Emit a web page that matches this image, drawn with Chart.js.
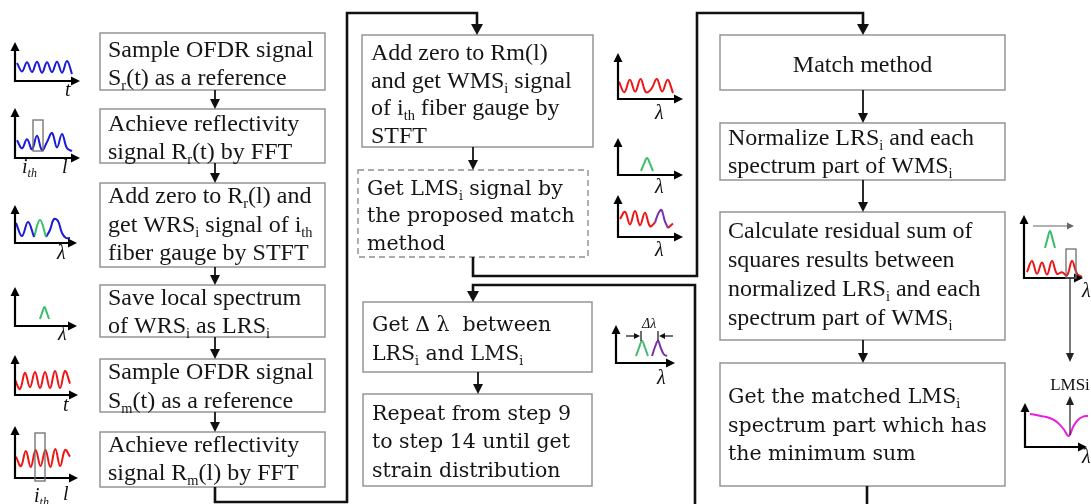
<!DOCTYPE html>
<html>
<head>
<meta charset="utf-8">
<script src="https://cdn.jsdelivr.net/npm/chart.js@4.4.1/dist/chart.umd.min.js"></script>
<style>
  html, body { margin: 0; padding: 0; background: #fff; overflow: hidden; }
  canvas { display: block; }
</style>
</head>
<body>
<canvas id="flow" width="1091" height="504"></canvas>
<script>
// ---- Step texts (subscripts written as _{...}) ----
const leftSteps = [
  ["Sample OFDR signal", "S_{r}(t) as a reference"],
  ["Achieve reflectivity", "signal R_{r}(t) by FFT"],
  ["Add zero to R_{r}(l) and", "get WRS_{i} signal of i_{th}", "fiber gauge by STFT"],
  ["Save local spectrum", "of WRS_{i} as LRS_{i}"],
  ["Sample OFDR signal", "S_{m}(t) as a reference"],
  ["Achieve reflectivity", "signal R_{m}(l) by FFT"]
];
const midSteps = [
  ["Add zero to Rm(l)", "and get WMS_{i} signal", "of i_{th} fiber gauge by", "STFT"],
  ["Get LMS_{i} signal by", "the proposed match", "method"],
  ["Get \u0394 \u03bb  between", "LRS_{i} and LMS_{i}"],
  ["Repeat from step 9", "to step 14 until get", "strain distribution"]
];
const rightSteps = [
  ["Match method"],
  ["Normalize LRS_{i} and each", "spectrum part of WMS_{i}"],
  ["Calculate residual sum of", "squares results between", "normalized LRS_{i} and each", "spectrum part of WMS_{i}"],
  ["Get the matched LMS_{i}", "spectrum part which has", "the minimum sum"]
];

// ---- Sketch signal samples (relative amplitude, 0 = low, 1 = high) ----
const sigRefTime   = [0.85, 0.2, 0.9, 0.15, 0.95, 0.1, 0.9, 0.15, 0.95, 0.1, 1.0, 0.0];
const sigRefRefl   = [0.6, 0.15, 0.65, 0.1, 0.85, 0.05, 0.5, 1.0, 0.2, 0.95, 0.15, 0.0];
const sigWrsA      = [0.75, 0.1, 0.8, 0.05];
const sigWrsPeak   = [0.05, 0.9, 0.05];
const sigWrsB      = [0.05, 0.4, 0.95, 0.85, 0.25, 0.0, 0.0];
const sigPeak      = [0.0, 0.55, 1.0, 0.55, 0.0];
const sigMeasTime  = [0.5, 0.0, 0.9, 0.1, 0.95, 0.05, 0.95, 0.05, 1.0, 0.05, 1.0, 0.3];
const sigMeasRefl  = [0.6, 0.1, 0.9, 0.05, 0.95, 0.1, 0.95, 0.05, 1.0, 0.1, 0.95, 0.6];
const sigWms       = [0.8, 0.05, 0.95, 0.1, 1.0, 0.05, 0.3, 1.0, 0.1, 0.95, 0.0];
const sigLmsRed    = [0.5, 0.9, 0.2, 0.95, 0.15, 0.85, 0.1, 0.3];
const sigLmsPurple = [0.3, 0.8, 1.0, 0.4, 0.0];
const sigLmsTail   = [0.0, 0.25];
const sigShifted   = [0.0, 0.6, 1.0, 0.5, 0.1, 0.0];
const sigScan      = [0.3, 1.0, 0.2, 0.9, 0.15, 1.0, 0.2, 0.3, 0.1, 1.0, 0.2, 0.0];
const sigResidual  = [1.0, 0.97, 0.92, 0.88, 0.82, 0.72, 0.55, 0.3, 0.0, 0.45, 0.75, 0.88, 0.92];

// ---- Colours ----
const BLUE = '#1a1ad8', GREEN = '#3dbd6c', RED = '#ee1515', PURPLE = '#7a2ea8', MAGENTA = '#e81ee3';

// ---- Where each sketch curve sits: [x1, x2, yHigh, yLow] ----
const curves = [
  { v: sigRefTime,   c: BLUE,    f: [17, 72, 61, 74] },
  { v: sigRefRefl,   c: BLUE,    f: [17, 72, 133, 151] },
  { v: sigWrsA,      c: BLUE,    f: [16, 34, 218, 238] },
  { v: sigWrsPeak,   c: GREEN,   f: [34, 46, 218, 238] },
  { v: sigWrsB,      c: BLUE,    f: [46, 70, 218, 238] },
  { v: sigPeak,      c: GREEN,   f: [40, 49, 307, 319] },
  { v: sigMeasTime,  c: RED,     f: [15, 70, 371, 389] },
  { v: sigMeasRefl,  c: RED,     f: [16, 70, 449, 468] },
  { v: sigWms,       c: RED,     f: [619, 673, 79, 93] },
  { v: sigPeak,      c: GREEN,   f: [641, 653, 158, 171] },
  { v: sigLmsRed,    c: RED,     f: [620, 655, 210, 228] },
  { v: sigLmsPurple, c: PURPLE,  f: [655, 668, 210, 228] },
  { v: sigLmsTail,   c: RED,     f: [668, 673, 210, 228] },
  { v: sigPeak,      c: GREEN,   f: [636, 648, 341, 356] },
  { v: sigShifted,   c: PURPLE,  f: [652, 667, 341, 356] },
  { v: sigPeak,      c: GREEN,   f: [1045, 1055, 231, 248] },
  { v: sigScan,      c: RED,     f: [1027, 1082, 261, 277] },
  { v: sigResidual,  c: MAGENTA, f: [1030, 1088, 414, 436] }
];

// ---- Box layout ----
const TIMES = '"Liberation Serif", "Times New Roman", serif';
const CAMB = '"DejaVu Serif", serif';
const leftBoxes = [
  { x: 100, y: 33,  w: 225, h: 57, b: [57, 85] },
  { x: 100, y: 109, w: 225, h: 54, b: [131, 159] },
  { x: 100, y: 183, w: 225, h: 84, b: [203, 232, 260] },
  { x: 100, y: 285, w: 225, h: 52, b: [305, 333] },
  { x: 100, y: 359, w: 225, h: 53, b: [379, 408] },
  { x: 100, y: 432, w: 225, h: 55, b: [452, 480] }
].map(o => Object.assign(o, { tx: 108, font: TIMES, size: 24 }));
const midBoxes = [
  { x: 362, y: 35,  w: 231, h: 112, b: [60, 88, 115, 143], tx: 371, font: TIMES, size: 24 },
  { x: 358, y: 170, w: 230, h: 87,  b: [195, 222, 250], tx: 367, font: CAMB, size: 20.5, dashed: true },
  { x: 363, y: 302, w: 229, h: 70,  b: [331, 360], tx: 372, font: CAMB, size: 20.5 },
  { x: 363, y: 394, w: 229, h: 92,  b: [420, 448, 477], tx: 372, font: CAMB, size: 20.5 }
];
const rightBoxes = [
  { x: 720, y: 35,  w: 285, h: 55,  b: [72], tx: 862.5, font: TIMES, size: 24, center: true },
  { x: 720, y: 123, w: 285, h: 57,  b: [145, 173], tx: 728, font: TIMES, size: 24 },
  { x: 720, y: 212, w: 285, h: 128, b: [238, 267, 296, 325], tx: 728, font: TIMES, size: 24 },
  { x: 720, y: 363, w: 285, h: 123, b: [403, 432, 460], tx: 728, font: CAMB, size: 20.5 }
];

// thin step arrows [x, yFrom, yTo]
const stepArrows = [
  [215, 90, 109], [215, 163, 183], [215, 267, 285], [215, 337, 359], [215, 412, 432],
  [473, 147, 170], [478, 372, 394],
  [863, 90, 123], [863, 180, 212], [863, 340, 363]
];
// thick connector paths; last point gets an arrow head when head = true
const connectors = [
  { p: [[215, 487], [215, 502], [347, 502], [347, 13], [477, 13], [477, 35]], head: true },
  { p: [[473, 257], [473, 276], [697, 276], [697, 13], [863, 13], [863, 35]], head: true },
  { p: [[867, 486], [867, 512]], head: false },
  { p: [[695, 512], [695, 285], [473, 285], [473, 302]], head: true }
];
// small plot axes [originX, originY, topY, rightX]
const miniAxes = [
  [15, 81, 42, 80], [15, 158, 108, 80], [15, 243, 205, 77], [15, 326, 287, 77],
  [15, 395, 355, 78], [15, 478, 426, 78],
  [618, 99, 53, 683], [618, 175, 138, 683], [618, 237, 195, 683], [616, 363, 325, 675],
  [1024, 278, 215, 1083], [1025, 447, 403, 1087]
];
// gauge windows [x, y, w, h]
const windows = [[33, 120, 10, 31], [35, 433, 10, 48], [1066, 249, 10, 29]];
// axis names [text, x, baseline]
const axisNames = [
  ["t", 65, 96], ["i_{th}", 22, 173], ["l", 62, 173], ["\u03bb", 57, 259], ["\u03bb", 58, 340],
  ["t", 63, 411], ["i_{th}", 34, 502], ["l", 63, 500],
  ["\u03bb", 655, 119], ["\u03bb", 655, 193], ["\u03bb", 655, 256], ["\u03bb", 657, 384],
  ["\u03bb", 1082, 297], ["\u03bb", 1082, 463]
];

// ---- text helpers ----
function splitRich(str) {
  const parts = [], re = /_\{([^}]*)\}/g;
  let last = 0, m;
  while ((m = re.exec(str))) {
    if (m.index > last) parts.push({ t: str.slice(last, m.index), sub: false });
    parts.push({ t: m[1], sub: true });
    last = re.lastIndex;
  }
  if (last < str.length) parts.push({ t: str.slice(last), sub: false });
  return parts;
}
function drawRich(ctx, str, x, y, size, family, opt) {
  opt = opt || {};
  const st = opt.italic ? 'italic ' : '';
  const fMain = st + size + 'px ' + family;
  const fSub = st + (size * 0.6).toFixed(1) + 'px ' + family;
  const parts = splitRich(str);
  let total = 0;
  parts.forEach(p => { ctx.font = p.sub ? fSub : fMain; p.w = ctx.measureText(p.t).width; total += p.w; });
  let cx = opt.center ? x - total / 2 : x;
  ctx.textAlign = 'left';
  ctx.textBaseline = 'alphabetic';
  parts.forEach(p => {
    ctx.font = p.sub ? fSub : fMain;
    ctx.fillText(p.t, cx, y + (p.sub ? size * 0.22 : 0));
    cx += p.w;
  });
}

const flowPlugin = {
  id: 'flowPlugin',
  beforeDatasetsDraw(chart) {
    const ctx = chart.ctx, sx = chart.scales.x, sy = chart.scales.y;
    const X = v => sx.getPixelForValue(v), Y = v => sy.getPixelForValue(v);
    ctx.save();
    const drawBoxes = (boxes, texts) => {
      boxes.forEach((bx, i) => {
        ctx.strokeStyle = '#8e8e8e';
        ctx.lineWidth = 1.4;
        ctx.setLineDash(bx.dashed ? [6, 4] : []);
        ctx.strokeRect(X(bx.x), Y(bx.y), X(bx.x + bx.w) - X(bx.x), Y(bx.y + bx.h) - Y(bx.y));
        ctx.setLineDash([]);
        ctx.fillStyle = '#151515';
        texts[i].forEach((line, k) => {
          drawRich(ctx, line, X(bx.tx), Y(bx.b[k]), bx.size, bx.font, { center: bx.center });
        });
      });
    };
    drawBoxes(leftBoxes, leftSteps);
    drawBoxes(midBoxes, midSteps);
    drawBoxes(rightBoxes, rightSteps);
    ctx.restore();
  },
  afterDatasetsDraw(chart) {
    const ctx = chart.ctx, sx = chart.scales.x, sy = chart.scales.y;
    const X = v => sx.getPixelForValue(v), Y = v => sy.getPixelForValue(v);
    ctx.save();
    const head = (x1, y1, x2, y2, len, half, color) => {
      const a = Math.atan2(y2 - y1, x2 - x1);
      ctx.fillStyle = color;
      ctx.beginPath();
      ctx.moveTo(x2, y2);
      ctx.lineTo(x2 - len * Math.cos(a) + half * Math.sin(a), y2 - len * Math.sin(a) - half * Math.cos(a));
      ctx.lineTo(x2 - len * Math.cos(a) - half * Math.sin(a), y2 - len * Math.sin(a) + half * Math.cos(a));
      ctx.closePath();
      ctx.fill();
    };
    const arrow = (x1, y1, x2, y2, lw, len, half, color) => {
      const a = Math.atan2(y2 - y1, x2 - x1);
      ctx.strokeStyle = color;
      ctx.lineWidth = lw;
      ctx.beginPath();
      ctx.moveTo(x1, y1);
      ctx.lineTo(x2 - (len - 1) * Math.cos(a), y2 - (len - 1) * Math.sin(a));
      ctx.stroke();
      head(x1, y1, x2, y2, len, half, color);
    };

    // step arrows
    stepArrows.forEach(([x, a, b]) => arrow(X(x), Y(a), X(x), Y(b), 1.8, 10, 5, '#111'));

    // connector paths
    connectors.forEach(cn => {
      const pts = cn.p.map(([x, y]) => [X(x), Y(y)]);
      ctx.strokeStyle = '#111';
      ctx.lineWidth = 2.6;
      ctx.lineJoin = 'miter';
      ctx.beginPath();
      pts.forEach((p, i) => {
        if (i === pts.length - 1 && cn.head) {
          const q = pts[i - 1];
          const a = Math.atan2(p[1] - q[1], p[0] - q[0]);
          ctx.lineTo(p[0] - 9 * Math.cos(a), p[1] - 9 * Math.sin(a));
        } else if (i === 0) ctx.moveTo(p[0], p[1]);
        else ctx.lineTo(p[0], p[1]);
      });
      ctx.stroke();
      if (cn.head) {
        const p = pts[pts.length - 1], q = pts[pts.length - 2];
        head(q[0], q[1], p[0], p[1], 11, 6, '#111');
      }
    });

    // mini plot axes
    miniAxes.forEach(([ox, oy, ty, rx]) => {
      arrow(X(ox), Y(oy) + 1, X(ox), Y(ty), 2.2, 9, 4.5, '#000');
      arrow(X(ox) - 1, Y(oy), X(rx), Y(oy), 2.2, 9, 4.5, '#000');
    });

    // gauge windows
    ctx.strokeStyle = '#6e6e6e';
    ctx.lineWidth = 1.3;
    windows.forEach(([x, y, w, h]) => ctx.strokeRect(X(x), Y(y), X(x + w) - X(x), Y(y + h) - Y(y)));

    // scanning direction and result arrows
    arrow(X(1033), Y(226), X(1074), Y(226), 1.1, 7, 3.5, '#666');
    arrow(X(1070), Y(278), X(1070), Y(362), 1.2, 9, 4, '#222');
    arrow(X(1070), Y(435), X(1070), Y(396), 1.2, 9, 4, '#222');

    // wavelength shift markers
    arrow(X(626), Y(336), X(640), Y(336), 1.2, 6, 3, '#111');
    arrow(X(673), Y(336), X(659), Y(336), 1.2, 6, 3, '#111');
    ctx.strokeStyle = '#111';
    ctx.lineWidth = 1.2;
    ctx.beginPath();
    ctx.moveTo(X(641), Y(331)); ctx.lineTo(X(641), Y(341));
    ctx.moveTo(X(658), Y(331)); ctx.lineTo(X(658), Y(341));
    ctx.stroke();

    // labels
    ctx.fillStyle = '#111';
    axisNames.forEach(([t, x, y]) => drawRich(ctx, t, X(x), Y(y), 20, TIMES, { italic: true }));
    drawRich(ctx, "\u0394\u03bb", X(642), Y(328), 14, TIMES, { italic: true });
    drawRich(ctx, "LMSi", X(1070), Y(390), 17, TIMES, { center: true });
    ctx.restore();
  }
};

const datasets = curves.map(cv => {
  const [x1, x2, yHi, yLo] = cv.f;
  const n = cv.v.length - 1;
  return {
    data: cv.v.map((v, i) => ({ x: x1 + (x2 - x1) * i / n, y: yLo - v * (yLo - yHi) })),
    showLine: true,
    borderColor: cv.c,
    borderWidth: 2,
    pointRadius: 0,
    tension: 0.4,
    fill: false,
    clip: false
  };
});

new Chart(document.getElementById('flow'), {
  type: 'scatter',
  data: { datasets },
  options: {
    responsive: false,
    animation: false,
    events: [],
    layout: { padding: 0 },
    plugins: { legend: { display: false }, tooltip: { enabled: false } },
    scales: {
      x: { type: 'linear', min: 0, max: 1091, display: false },
      y: { type: 'linear', min: 0, max: 504, reverse: true, display: false }
    }
  },
  plugins: [flowPlugin]
});
</script>
</body>
</html>
